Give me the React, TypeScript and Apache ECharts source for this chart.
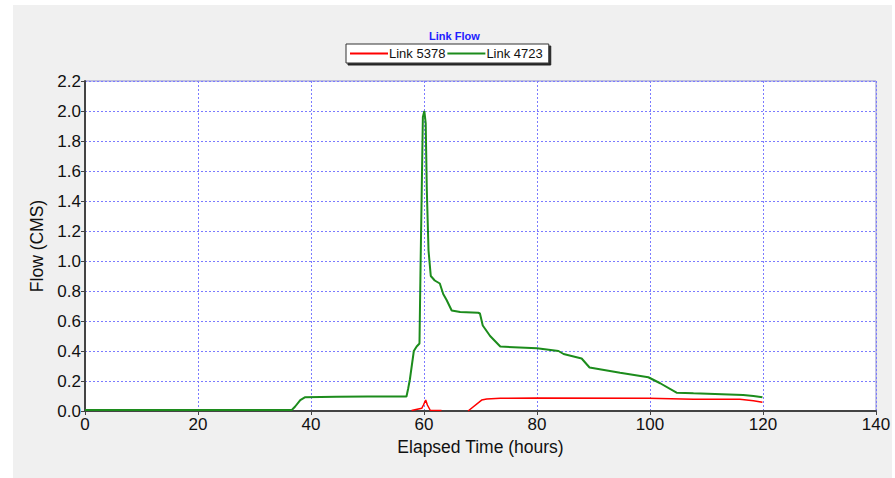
import React, { useEffect, useRef } from "react";
import * as echarts from "echarts";

const titleText = "Link Flow";
const seriesNames = ["Link 5378", "Link 4723"];
const xAxisName = "Elapsed Time (hours)";
const yAxisName = "Flow (CMS)";

const link4723Hours = [0, 36.6, 37.2, 38.1, 38.9, 44.5, 50, 56.9, 57.2, 57.5, 58.2, 58.7, 59.2, 59.4, 59.6, 59.8, 60.06, 60.3, 60.5, 60.8, 61.2, 61.9, 62.8, 63.4, 64.0, 64.9, 66.4, 69.6, 69.9, 70.4, 71.7, 73.5, 80, 83.8, 84.7, 87.9, 89.3, 94.7, 99.7, 101.8, 104.7, 107.7, 116.5, 118.3, 119.9];
const link4723Flow = [0.007, 0.007, 0.03, 0.073, 0.091, 0.095, 0.097, 0.097, 0.15, 0.21, 0.40, 0.43, 0.45, 0.99, 1.47, 1.96, 2.0, 1.92, 1.47, 1.07, 0.90, 0.87, 0.85, 0.78, 0.74, 0.67, 0.66, 0.655, 0.65, 0.57, 0.50, 0.43, 0.418, 0.40, 0.38, 0.35, 0.29, 0.255, 0.225, 0.185, 0.122, 0.118, 0.107, 0.10, 0.091];

const link5378Hours = [57.8, 59.6, 59.9, 60.3, 60.6, 61.1, 63.1, 65, 67.8, 70.2, 71.1, 73.5, 80, 99.7, 107.7, 115.9, 118.3, 119.9];
const link5378Flow: (number | null)[] = [0.003, 0.018, 0.04, 0.073, 0.04, 0.005, 0.003, null, 0, 0.073, 0.08, 0.085, 0.087, 0.085, 0.078, 0.078, 0.069, 0.058];

export default function App() {
  const ref = useRef<HTMLDivElement>(null);
  useEffect(() => {
    document.body.style.margin = "0";
    const chart = echarts.init(ref.current!, undefined, { renderer: "svg" });
    const font = "Liberation Sans, Arial, sans-serif";
    const gridColor = "#7b7bff";
    chart.setOption({
      animation: false,
      backgroundColor: "#ffffff",
      textStyle: { fontFamily: font },
      graphic: [
        {
          type: "rect",
          z: -10,
          shape: { x: 13, y: 5, width: 879, height: 473 },
          style: { fill: "#f0f0f0" },
          silent: true,
        },
      ],
      title: {
        text: titleText,
        left: 429,
        top: 30,
        padding: 0,
        textStyle: { color: "#2020ff", fontSize: 11, fontWeight: "bold", fontFamily: font },
      },
      legend: {
        left: 346,
        top: 44,
        padding: [2, 6, 2, 4],
        itemGap: 2,
        itemWidth: 38,
        itemHeight: 2,
        icon: "rect",
        backgroundColor: "#ffffff",
        borderColor: "#333333",
        borderWidth: 1,
        borderRadius: 0,
        shadowColor: "rgba(0,0,0,0.85)",
        shadowBlur: 0,
        shadowOffsetX: 2,
        shadowOffsetY: 2,
        textStyle: { fontSize: 13, color: "#111", fontFamily: font, padding: [0, 0, 0, -4], lineHeight: 15 },
        data: seriesNames,
      },
      grid: {
        left: 85,
        top: 81,
        width: 791,
        height: 330,
        show: true,
        backgroundColor: "#ffffff",
        borderColor: "#8c8cc8",
        borderWidth: 1,
      },
      xAxis: {
        type: "value",
        min: 0,
        max: 140,
        interval: 20,
        name: xAxisName,
        nameLocation: "middle",
        nameGap: 27,
        nameTextStyle: { fontSize: 17.5, color: "#111", fontFamily: font },
        axisLine: { show: true, onZero: false, lineStyle: { color: "#444", width: 2 } },
        axisTick: { show: true, length: 4, lineStyle: { color: "#444" } },
        axisLabel: { fontSize: 17, color: "#111", margin: 5, fontFamily: font },
        splitLine: { show: true, lineStyle: { color: gridColor, type: [2, 2], width: 1 } },
      },
      yAxis: {
        type: "value",
        min: 0,
        max: 2.2,
        interval: 0.2,
        name: yAxisName,
        nameLocation: "middle",
        nameGap: 37,
        nameTextStyle: { fontSize: 17.5, color: "#111", fontFamily: font },
        axisLine: { show: true, lineStyle: { color: "#444", width: 2 } },
        axisTick: { show: true, length: 4, lineStyle: { color: "#444" } },
        axisLabel: {
          fontSize: 17,
          color: "#111",
          margin: 4,
          fontFamily: font,
          formatter: (v: number) => v.toFixed(1),
        },
        splitLine: { show: true, lineStyle: { color: gridColor, type: [2, 2], width: 1 } },
      },
      series: [
        {
          name: seriesNames[0],
          type: "line",
          symbol: "none",
          color: "#ff0000",
          lineStyle: { color: "#ff0000", width: 1.5 },
          data: link5378Hours.map((h, i) => [h, link5378Flow[i]]),
          z: 3,
        },
        {
          name: seriesNames[1],
          type: "line",
          symbol: "none",
          color: "#1c8c1c",
          lineStyle: { color: "#1c8c1c", width: 2 },
          data: link4723Hours.map((h, i) => [h, link4723Flow[i]]),
          z: 2,
        },
      ],
    });
    return () => chart.dispose();
  }, []);
  return <div ref={ref} style={{ width: 895, height: 478 }} />;
}
